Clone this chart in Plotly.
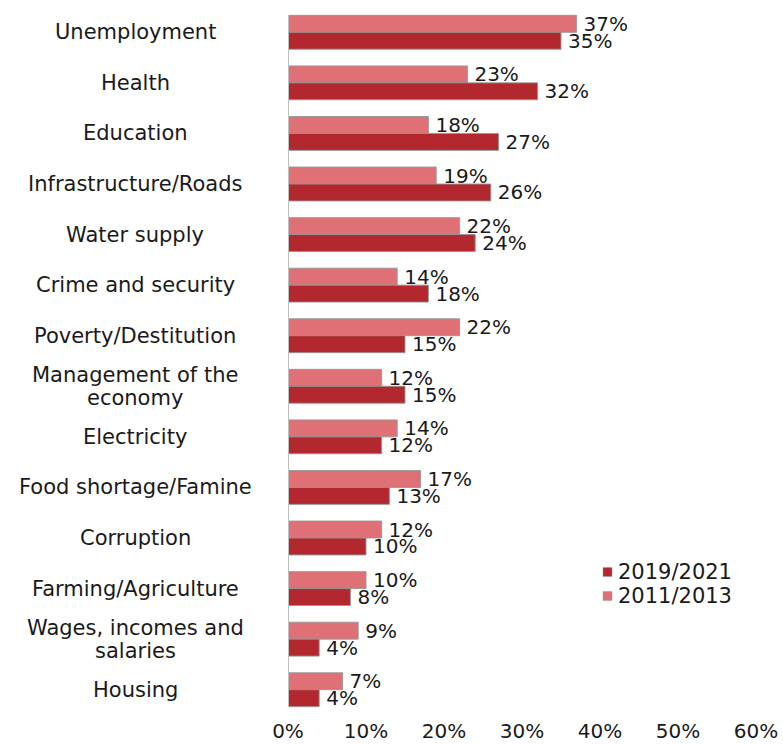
import plotly.graph_objects as go

# Most important problems, share of respondents (%)
categories = [
    "Unemployment", "Health", "Education", "Infrastructure/Roads",
    "Water supply", "Crime and security", "Poverty/Destitution",
    "Management of the<br>economy", "Electricity", "Food shortage/Famine",
    "Corruption", "Farming/Agriculture", "Wages, incomes and<br>salaries",
    "Housing",
]
values_2011_2013 = [37, 23, 18, 19, 22, 14, 22, 12, 14, 17, 12, 10, 9, 7]
values_2019_2021 = [35, 32, 27, 26, 24, 18, 15, 15, 12, 13, 10, 8, 4, 4]
series_names = ["2019/2021", "2011/2013"]
x_ticks = [0, 10, 20, 30, 40, 50, 60]
x_tick_labels = [f"{t}%" for t in x_ticks]

FONT = "DejaVu Sans, Verdana, sans-serif"
FS = 20
CAT_FS = 21
LINE_STEP = 23  # pixel spacing between lines of a wrapped category label
TEXT_COLOR = "#1a1a1a"
LIGHT = "#df7176"
DARK = "#b2282e"
EDGE = dict(color="rgba(150,150,150,0.9)", width=1)

W, H = 783, 744
ML, MR, MT, MB = 288, 27, 7, 29
PW, PH = W - ML - MR, H - MT - MB


def px_x(x):
    return (x - ML) / PW


def px_y(y):
    return 1 - (y - MT) / PH


def pct_labels(values):
    # thin space keeps the label a few pixels clear of the bar end
    return [f"\u2009{v}%" for v in values]


fig = go.Figure()
fig.add_trace(go.Bar(
    name=series_names[1], y=categories, x=values_2011_2013, orientation="h",
    marker=dict(color=LIGHT, line=EDGE),
    text=pct_labels(values_2011_2013), textposition="outside",
    textfont=dict(size=FS, color=TEXT_COLOR, family=FONT),
    cliponaxis=False, constraintext="none",
))
fig.add_trace(go.Bar(
    name=series_names[0], y=categories, x=values_2019_2021, orientation="h",
    marker=dict(color=DARK, line=EDGE),
    text=pct_labels(values_2019_2021), textposition="outside",
    textfont=dict(size=FS, color=TEXT_COLOR, family=FONT),
    cliponaxis=False, constraintext="none",
))

# Category labels, centred in the left margin (one annotation per line)
for c in categories:
    lines = c.split("<br>")
    n = len(lines)
    for i, line in enumerate(lines):
        fig.add_annotation(
            x=px_x(135), xref="paper", y=c, yref="y", text=line,
            showarrow=False, xanchor="center", yanchor="middle",
            yshift=((n - 1) / 2 - i) * LINE_STEP,
            font=dict(size=CAT_FS, color=TEXT_COLOR, family=FONT),
        )

# Vertical category axis line spanning the bars
fig.add_shape(
    type="line", xref="x", yref="paper", x0=0, x1=0,
    y0=px_y(707), y1=px_y(15), line=dict(color="#bfbfbf", width=2),
)

# Legend: small swatches with labels
for name, color, yc in [(series_names[0], DARK, 572), (series_names[1], LIGHT, 596)]:
    fig.add_shape(
        type="rect", xref="paper", yref="paper",
        x0=px_x(603), x1=px_x(612), y0=px_y(yc + 4.5), y1=px_y(yc - 4.5),
        fillcolor=color, line=dict(color="rgba(150,150,150,0.9)", width=0.5),
    )
    fig.add_annotation(
        x=px_x(616), xref="paper", y=px_y(yc), yref="paper", text=name,
        showarrow=False, xanchor="left", yanchor="middle",
        font=dict(size=CAT_FS, color=TEXT_COLOR, family=FONT),
    )

fig.update_layout(
    width=W, height=H,
    margin=dict(l=ML, r=MR, t=MT, b=MB, autoexpand=False),
    paper_bgcolor="white", plot_bgcolor="white",
    barmode="group", bargap=0.33, bargroupgap=0,
    font=dict(family=FONT, size=FS, color=TEXT_COLOR),
    showlegend=False,
    xaxis=dict(
        range=[0, 60], tickvals=x_ticks, ticktext=x_tick_labels,
        showgrid=False, zeroline=False, showline=False, ticks="",
        ticklabelstandoff=2, automargin=False,
        tickfont=dict(size=FS, color=TEXT_COLOR, family=FONT),
    ),
    yaxis=dict(
        autorange="reversed", showticklabels=False, ticks="",
        showgrid=False, zeroline=False, showline=False, automargin=False,
    ),
)

fig.write_html("out.html")
